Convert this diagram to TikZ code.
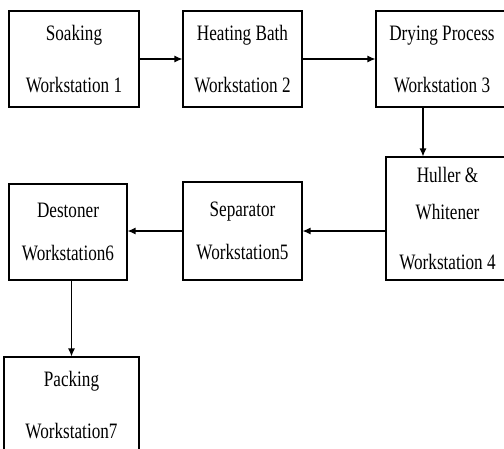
\documentclass[tikz,border=0pt]{standalone}
\usepackage{fontspec}
\setmainfont[FakeStretch=0.78]{Liberation Serif}
\usetikzlibrary{arrows.meta}

\begin{document}
\begin{tikzpicture}[x=1pt,y=-1pt,
    station/.style={draw,line width=1.1pt,inner sep=0pt,align=center,
      font=\fontsize{22}{26}\selectfont},
    flow/.style={-{Latex[length=8pt,width=7pt]},line width=1.2pt}]
  \clip (0,0) rectangle (504,448);

  % Workstations
  \node[station,minimum width=130pt,minimum height=96pt] (s1) at (74,59)
    {Soaking\\[26pt]Workstation 1};
  \node[station,minimum width=119pt,minimum height=96pt] (s2) at (242.5,59)
    {Heating Bath\\[26pt]Workstation 2};
  \node[station,minimum width=132pt,minimum height=96pt] (s3) at (442,59)
    {Drying Process\\[26pt]Workstation 3};
  \node[station,minimum width=123pt,minimum height=123pt] (s4) at (447.5,218.5)
    {Huller \&\\[11pt]Whitener\\[24pt]Workstation 4};
  \node[station,minimum width=119pt,minimum height=98pt] (s5) at (242.5,231)
    {Separator\\[17pt]Workstation5};
  \node[station,minimum width=118pt,minimum height=96pt] (s6) at (68,232)
    {Destoner\\[17pt]Workstation6};
  \node[station,minimum width=135pt,minimum height=96pt] (s7) at (71.5,405)
    {Packing\\[26pt]Workstation7};

  % Arrows
  \draw[flow] (s1.east) -- (s2.west);
  \draw[flow] (s2.east) -- (s3.west);
  \draw[flow] ([xshift=-19pt]s3.south) coordinate (d3) -- (d3 |- s4.north);
  \draw[flow] (s4.west |- s5) -- (s5.east);
  \draw[flow] (s5.west) -- (s5.west -| s6.east);
  \draw[flow] (s7.north |- s6.south) -- (s7.north);

\end{tikzpicture}
\end{document}
